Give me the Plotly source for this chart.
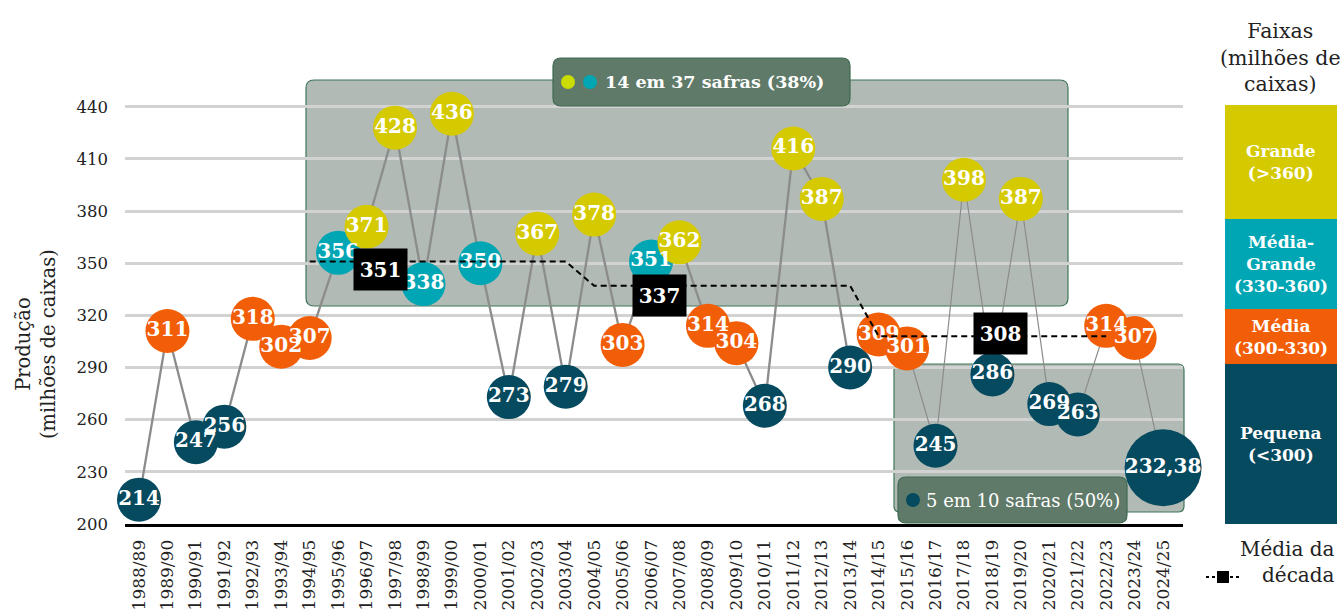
import plotly.graph_objects as go

# ---------------- data ----------------
seasons = ["1988/89", "1989/90", "1990/91", "1991/92", "1992/93", "1993/94", "1994/95",
           "1995/96", "1996/97", "1997/98", "1998/99", "1999/00", "2000/01", "2001/02",
           "2002/03", "2003/04", "2004/05", "2005/06", "2006/07", "2007/08", "2008/09",
           "2009/10", "2010/11", "2011/12", "2012/13", "2013/14", "2014/15", "2015/16",
           "2016/17", "2017/18", "2018/19", "2019/20", "2020/21", "2021/22", "2022/23",
           "2023/24", "2024/25"]
production = [214, 311, 247, 256, 318, 302, 307, 356, 371, 428, 338, 436, 350, 273, 367,
              279, 378, 303, 351, 362, 314, 304, 268, 416, 387, 290, 309, 301, 245, 398,
              286, 387, 269, 263, 314, 307, 232.38]
decade_avg = [351, 337, 308]
decade_first = ["1994/95", "2004/05", "2014/15"]
decade_last = ["2003/04", "2013/14", "2022/23"]
y_ticks = [200, 230, 260, 290, 320, 350, 380, 410, 440]
band_names = ["Grande<br>(>360)", "Média-<br>Grande<br>(330-360)", "Média<br>(300-330)", "Pequena<br>(<300)"]
summary_top = "14 em 37 safras (38%)"
summary_bottom = "5 em 10 safras (50%)"

# ---------------- styles ----------------
C_BIG = "#D5C900"
C_MG = "#00A6B3"
C_MED = "#F25E08"
C_SMALL = "#064A60"
FONT = "DejaVu Serif"

def band_color(v):
    if v > 360:
        return C_BIG
    if v >= 330:
        return C_MG
    if v >= 300:
        return C_MED
    return C_SMALL

def fmt(v):
    return str(int(v)) if float(v).is_integer() else f"{v:.2f}".replace(".", ",")

idx = list(range(len(seasons)))
colors = [band_color(v) for v in production]
labels = [fmt(v) for v in production]
sizes = [44] * (len(production) - 1) + [77]

# dashed decade-average line
avg_line = [None] * len(seasons)
for a, f, l in zip(decade_avg, decade_first, decade_last):
    for i in range(seasons.index(f), seasons.index(l) + 1):
        avg_line[i] = a

# ---------------- layout geometry (pixels) ----------------
W, H = 1344, 614
L, R, T, B = 125, 161, 72, 90
PW, PH = W - L - R, H - T - B

def px(x):
    return (x - L) / PW

def py(y):
    return (H - B - y) / PH

def P(x, y):
    return f"{px(x):.5f},{py(y):.5f}"

def rrect(x0, y0, x1, y1, r):
    return (f"M {P(x0 + r, y0)} L {P(x1 - r, y0)} Q {P(x1, y0)} {P(x1, y0 + r)} "
            f"L {P(x1, y1 - r)} Q {P(x1, y1)} {P(x1 - r, y1)} L {P(x0 + r, y1)} "
            f"Q {P(x0, y1)} {P(x0, y1 - r)} L {P(x0, y0 + r)} Q {P(x0, y0)} {P(x0 + r, y0)} Z")

fig = go.Figure()

split = seasons.index("2014/15")
fig.add_trace(go.Scatter(x=idx[:split + 1], y=production[:split + 1], mode="lines",
                         line=dict(color="#8C8C8C", width=2.3), hoverinfo="skip", showlegend=False))
fig.add_trace(go.Scatter(x=idx[split:], y=production[split:], mode="lines",
                         line=dict(color="#8C8C8C", width=1.2), hoverinfo="skip", showlegend=False))
fig.add_trace(go.Scatter(x=idx, y=production, mode="markers+text", text=labels,
                         textposition="middle center",
                         textfont=dict(family=FONT, size=20, color="white", weight="bold"),
                         marker=dict(size=sizes, color=colors, line=dict(width=0), opacity=1),
                         cliponaxis=False, showlegend=False))
fig.add_trace(go.Scatter(x=idx, y=avg_line, mode="lines",
                         line=dict(color="black", width=2, dash="6px,4px"),
                         connectgaps=False, showlegend=False, hoverinfo="skip"))

shapes = []
# grey highlight regions
shapes.append(dict(type="path", path=rrect(306, 80, 1068, 306, 8), xref="paper", yref="paper",
                   fillcolor="#B1BAB4", line=dict(color="#3F7658", width=1.2), layer="below"))
shapes.append(dict(type="path", path=rrect(894, 364, 1184, 512, 6), xref="paper", yref="paper",
                   fillcolor="#B1BAB4", line=dict(color="#3F7658", width=1.2), layer="below"))
# summary label boxes
shapes.append(dict(type="path", path=rrect(553, 58, 850, 106, 8), xref="paper", yref="paper",
                   fillcolor="#5F7A69", line=dict(color="#3F6A51", width=1.2), layer="above"))
shapes.append(dict(type="path", path=rrect(898, 477, 1127, 523, 8), xref="paper", yref="paper",
                   fillcolor="#5F7A69", line=dict(color="#3F6A51", width=1.2), layer="above"))
for cx, col in [(568, "#CADC00"), (590, C_MG)]:
    shapes.append(dict(type="circle", xref="paper", yref="paper", x0=px(cx - 7), x1=px(cx + 7),
                       y0=py(89), y1=py(75), fillcolor=col, line=dict(width=0), layer="above"))
shapes.append(dict(type="circle", xref="paper", yref="paper", x0=px(906), x1=px(920),
                   y0=py(507), y1=py(493), fillcolor=C_SMALL, line=dict(width=0), layer="above"))
# right-hand band legend
band_cols = [C_BIG, C_MG, C_MED, C_SMALL]
band_y = [105, 219, 309, 364, 524]
for i, col in enumerate(band_cols):
    shapes.append(dict(type="rect", xref="paper", yref="paper", x0=px(1225), x1=px(1337),
                       y0=py(band_y[i + 1]), y1=py(band_y[i]), fillcolor=col, line=dict(width=0)))
# decade-average legend icon
shapes.append(dict(type="line", xref="paper", yref="paper", x0=px(1206), x1=px(1242),
                   y0=py(577), y1=py(577), line=dict(color="black", width=2, dash="dot")))
shapes.append(dict(type="rect", xref="paper", yref="paper", x0=px(1217), x1=px(1229),
                   y0=py(583), y1=py(571), fillcolor="black", line=dict(width=0)))

annotations = []
# decade-average boxes
box_pos = [(8.5, -8), (18.3, -10), (30.3, 3)]
for a, (bx, dy) in zip(decade_avg, box_pos):
    annotations.append(dict(x=bx, y=a, xref="x", yref="y", xanchor="center", yanchor="middle",
                            text=f"<b>{a}</b>", showarrow=False,
                            font=dict(family=FONT, size=20, color="white"), bgcolor="black",
                            width=53, height=41, borderpad=0, yshift=dy))
annotations.append(dict(x=px(603), y=py(82), xref="paper", yref="paper", xanchor="left",
                        yanchor="middle", text=f"<b>{summary_top}</b>", showarrow=False,
                        font=dict(family=FONT, size=17.5, color="white")))
annotations.append(dict(x=px(924), y=py(500), xref="paper", yref="paper", xanchor="left",
                        yanchor="middle", text=summary_bottom, showarrow=False,
                        font=dict(family=FONT, size=18, color="white")))
# axis title
annotations.append(dict(x=px(36), y=py(344), xref="paper", yref="paper", textangle=-90,
                        xanchor="center", yanchor="middle",
                        text="Produção<br>(milhões de caixas)", showarrow=False,
                        font=dict(family=FONT, size=19.5, color="#222")))
# band legend texts
annotations.append(dict(x=px(1280), y=py(57), xref="paper", yref="paper",
                        xanchor="center", yanchor="middle",
                        text="Faixas<br>(milhões de<br>caixas)", showarrow=False,
                        font=dict(family=FONT, size=20.5, color="#222")))
for i, name in enumerate(band_names):
    annotations.append(dict(x=px(1281), y=py((band_y[i] + band_y[i + 1]) / 2), xref="paper",
                            yref="paper", xanchor="center", yanchor="middle",
                            text=f"<b>{name}</b>", showarrow=False,
                            font=dict(family=FONT, size=17, color="white")))
annotations.append(dict(x=px(1337), y=py(562), xref="paper", yref="paper", xanchor="right",
                        yanchor="middle", align="right", text="Média da<br>década", showarrow=False,
                        font=dict(family=FONT, size=20, color="#222")))

fig.update_layout(
    width=W, height=H, margin=dict(l=L, r=R, t=T, b=B, autoexpand=False),
    paper_bgcolor="white", plot_bgcolor="white",
    shapes=shapes, annotations=annotations, showlegend=False,
    xaxis=dict(range=[-0.492, 36.70], tickmode="array", tickvals=idx, ticktext=seasons,
               tickangle=-90, tickfont=dict(family=FONT, size=17, color="#222"),
               showgrid=False, zeroline=False, showline=True, linecolor="black", linewidth=3,
               ticks="", ticklabelstandoff=6, fixedrange=True),
    yaxis=dict(range=[200, 460], tickmode="array", tickvals=y_ticks,
               tickfont=dict(family=FONT, size=16.5, color="#222"),
               showgrid=True, gridcolor="#D2D2D2", gridwidth=2.5, zeroline=False,
               showline=False, ticks="", ticklabelstandoff=16, fixedrange=True),
)

fig.write_html("out.html", config={"displayModeBar": False},
               post_script="document.body.style.margin='0';document.body.style.overflow='hidden';")
